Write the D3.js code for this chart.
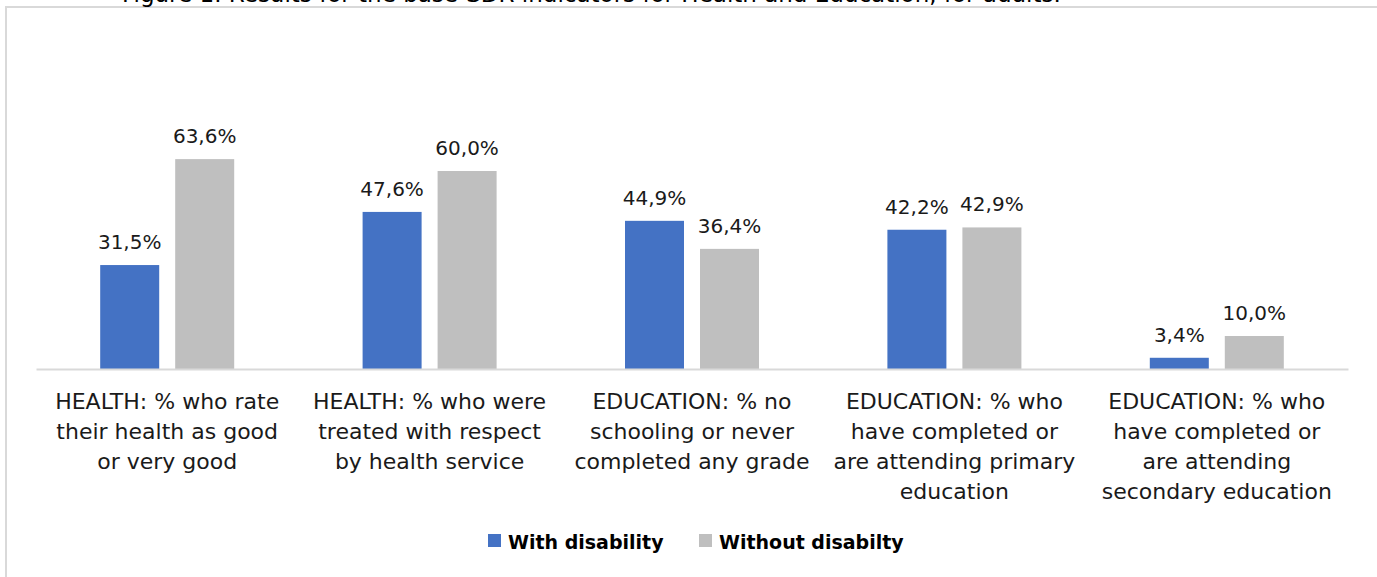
<!DOCTYPE html>
<meta charset="UTF-8">
<script src="https://d3js.org/d3.v7.min.js"></script>
<style>
  body { margin: 0; background: #fff; }
  svg { display: block; }
</style>
<div id="my_dataviz"></div>
<script>

  // Data
  const categories = [
    ["HEALTH: % who rate", "their health as good", "or very good"],
    ["HEALTH: % who were", "treated with respect", "by health service"],
    ["EDUCATION: % no", "schooling or never", "completed any grade"],
    ["EDUCATION: % who", "have completed or", "are attending primary", "education"],
    ["EDUCATION: % who", "have completed or", "are attending", "secondary education"]
  ];
  const seriesNames = ["With disability", "Without disabilty"];
  const withDisability = [31.5, 47.6, 44.9, 42.2, 3.4];
  const withoutDisability = [63.6, 60.0, 36.4, 42.9, 10.0];
  const colors = ["#4472c4", "#bfbfbf"];

  const W = 1377, H = 577;

  const svg = d3.select("#my_dataviz")
    .append("svg")
    .attr("width", W)
    .attr("height", H);

  // Frame (cut off at right and bottom)
  svg.append("rect")
    .attr("x", 6).attr("y", 7)
    .attr("width", 1420).attr("height", 620)
    .attr("fill", "none")
    .attr("stroke", "#d9d9d9")
    .attr("stroke-width", 2);

  // Title, clipped at top as in the source
  svg.append("text")
    .attr("x", 122)
    .attr("y", 2)
    .style("font-family", "DejaVu Sans")
    .style("font-size", "23px")
    .attr("fill", "#000")
    .text("Figure 1. Results for the base-SDR indicators for Health and Education, for adults.");

  const idx = d3.range(categories.length);

  const x0 = d3.scaleBand()
    .domain(idx)
    .range([36, 1348])
    .padding(0);

  const x1 = d3.scaleBand()
    .domain([0, 1])
    .range([0, x0.bandwidth()])
    .paddingInner(0.2133)
    .paddingOuter(0.856);

  const y = d3.scaleLinear()
    .domain([0, 100])
    .range([369, 39]);

  const table = idx.map(i => [withDisability[i], withoutDisability[i]]);

  // Bars
  const groups = svg.append("g")
    .selectAll("g")
    .data(table)
    .join("g")
    .attr("transform", (d, i) => `translate(${x0(i)},0)`);

  groups.selectAll("rect")
    .data(d => d.map((v, s) => ({v, s})))
    .join("rect")
    .attr("x", d => x1(d.s))
    .attr("y", d => y(d.v))
    .attr("width", x1.bandwidth())
    .attr("height", d => y(0) - y(d.v))
    .attr("fill", d => colors[d.s]);

  groups.selectAll("text")
    .data(d => d.map((v, s) => ({v, s})))
    .join("text")
    .attr("x", d => x1(d.s) + x1.bandwidth() / 2)
    .attr("y", d => y(d.v) - 16)
    .attr("text-anchor", "middle")
    .style("font-family", "DejaVu Sans")
    .style("font-size", "20px")
    .attr("fill", "#1a1a1a")
    .text(d => d.v.toFixed(1).replace(".", ",") + "%");

  // X axis
  const xAxis = svg.append("g")
    .attr("transform", `translate(0,${y(0)})`)
    .call(d3.axisBottom(x0).tickSize(0).tickFormat(""));

  xAxis.select(".domain")
    .attr("stroke", "#d9d9d9")
    .attr("stroke-width", 2);

  const labels = svg.append("g")
    .selectAll("text")
    .data(categories)
    .join("text")
    .attr("text-anchor", "middle")
    .style("font-family", "DejaVu Sans")
    .style("font-size", "22px")
    .attr("fill", "#1a1a1a");

  labels.selectAll("tspan")
    .data((d, i) => d.map(line => ({line, i})))
    .join("tspan")
    .attr("x", d => x0(d.i) + x0.bandwidth() / 2)
    .attr("y", (d, j) => 409 + j * 30)
    .text(d => d.line);

  // Legend
  const legend = svg.append("g");
  const legendX = [488, 699];

  legend.selectAll("rect")
    .data(seriesNames)
    .join("rect")
    .attr("x", (d, i) => legendX[i])
    .attr("y", 534)
    .attr("width", 13)
    .attr("height", 13)
    .attr("fill", (d, i) => colors[i]);

  legend.selectAll("text")
    .data(seriesNames)
    .join("text")
    .attr("x", (d, i) => legendX[i] + 20)
    .attr("y", 549)
    .style("font-family", "DejaVu Sans")
    .style("font-weight", "bold")
    .style("font-size", "19px")
    .attr("fill", "#000")
    .text(d => d);

</script>
